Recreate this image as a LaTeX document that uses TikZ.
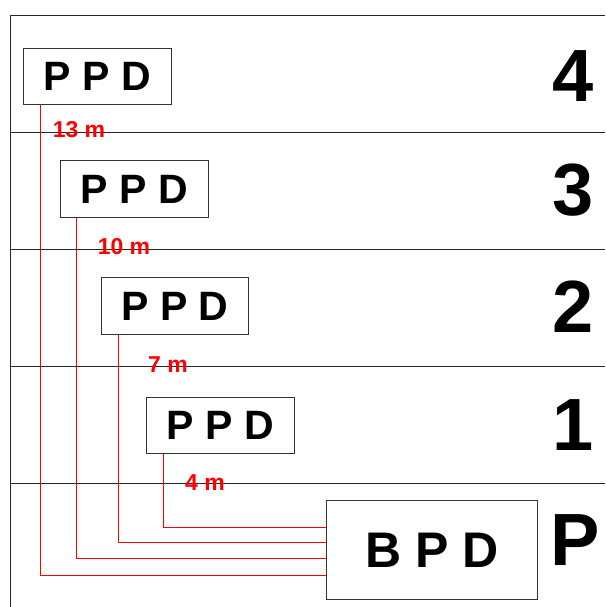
\documentclass[tikz,border=0pt]{standalone}
\usepackage{fontspec}
\setmainfont{Liberation Sans}
\begin{document}
\begin{tikzpicture}[x=1pt,y=-1pt,
  frameline/.style={draw=black!85,line width=1.2pt},
  pbox/.style={draw=black!80,line width=1.2pt,outer sep=0pt,minimum width=148pt,minimum height=56pt,inner sep=0pt,font=\fontsize{41}{41}\selectfont\bfseries},
  bbox/.style={draw=black!80,line width=1.2pt,outer sep=0pt,minimum width=211pt,minimum height=99pt,inner sep=0pt,font=\fontsize{50}{50}\selectfont\bfseries},
  floornum/.style={inner sep=0pt,font=\fontsize{74}{74}\selectfont\bfseries},
  dist/.style={inner sep=0pt,text=red,font=\fontsize{23}{23}\selectfont\bfseries},
  pipe/.style={draw=red,line width=1.4pt}]
\useasboundingbox (0,0) rectangle (605,607);
% frame and floor lines
\draw[frameline] (10.5,607) -- (10.5,15.5) -- (605,15.5);
\foreach \yy in {132.5,249.5,366.5,483.5} \draw[frameline] (10.5,\yy) -- (605,\yy);
% boxes
\node[pbox] (b4) at (97.5,76.5) {P P D};
\node[pbox,minimum height=57pt] (b3) at (134.5,189) {P P D};
\node[pbox,minimum width=147pt,minimum height=57pt] (b2) at (175,306) {P P D};
\node[pbox] (b1) at (220.5,425.5) {P P D};
\node[bbox] (bpd) at (432,550) {B P D};
% floor numbers
\node[floornum] (f4) at (573,76) {4};
\node[floornum] (f3) at (573,190) {3};
\node[floornum] (f2) at (573,307) {2};
\node[floornum] (f1) at (573,425) {1};
\node[floornum] (fp) at (575,540) {P};
% pipes
\draw[pipe] ([xshift=17pt]b4.south west) |- ([yshift=-25.5pt]bpd.west);
\draw[pipe] ([xshift=16pt]b3.south west) |- ([yshift=-8.5pt]bpd.west);
\draw[pipe] ([xshift=17pt]b2.south west) |- ([yshift=7.5pt]bpd.west);
\draw[pipe] ([xshift=17pt]b1.south west) |- ([yshift=22.5pt]bpd.west);
% distances
\node[dist] (d4) at (79,130) {13 m};
\node[dist] (d3) at (124,247) {10 m};
\node[dist] (d2) at (168,365) {7 m};
\node[dist] (d1) at (205,483) {4 m};
\end{tikzpicture}
\end{document}
